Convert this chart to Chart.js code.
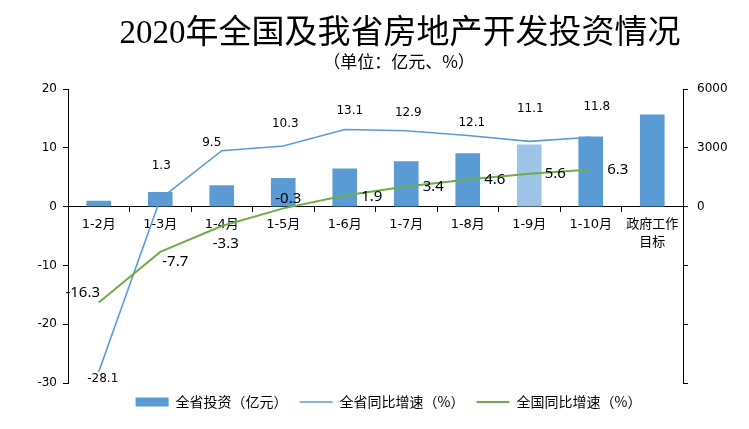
<!DOCTYPE html>
<html>
<head>
<meta charset="utf-8">
<script src="https://cdn.jsdelivr.net/npm/chart.js@4.4.1/dist/chart.umd.min.js"></script>
<style>
  html, body { margin: 0; padding: 0; background: #fff; }
  #wrap { width: 749px; height: 429px; }
</style>
</head>
<body>
<div id="wrap"><canvas id="c"></canvas></div>
<script>
// 2020年全国及我省房地产开发投资情况
const months = ["1-2月", "1-3月", "1-4月", "1-5月", "1-6月", "1-7月", "1-8月", "1-9月", "1-10月", ["政府工作", "目标"]];
const provInvest = [280, 730, 1070, 1440, 1930, 2300, 2700, 3150, 3560, 4680];   // 亿元
const provGrowth = [-28.1, 1.3, 9.5, 10.3, 13.1, 12.9, 12.1, 11.1, 11.8, null];   // %
const natGrowth = [-16.3, -7.7, -3.3, -0.3, 1.9, 3.4, 4.6, 5.6, 6.3, null];       // %
const leftTicks = [-30, -20, -10, 0, 10, 20];
const rightTicks = [-9000, -6000, -3000, 0, 3000, 6000];
const titleText = "2020年全国及我省房地产开发投资情况";
const subtitleText = "（单位：亿元、%）";

const CJK = '"DejaVu Sans", "Noto Sans CJK SC", sans-serif';
const BLUE = "#5b9bd5", LIGHT = "#9dc3e6", GREEN = "#70ad47";

// 数据标签的摆放（像素偏移，和 Excel 里手动拖过的位置对应）
const labelPlace = {
  1: { dx: [4, 1, -10, 2, 5, 2, 4, 1, 6], dy: [7, -33, -8, -22, -19, -18, -13, -32, -30],
       font: '12px "DejaVu Sans", sans-serif' },
  2: { dx: [-16, 15, 4, 5, 27, 27, 27, 26, 27], dy: [-10, 10, 18, -10, 1, 0, 0, 0, 0],
       font: '15px "Noto Sans", sans-serif' },
};

const pointLabels = {
  id: "pointLabels",
  afterDatasetsDraw(chart) {
    const ctx = chart.ctx;
    ctx.save();
    ctx.fillStyle = "#000";
    ctx.textAlign = "center";
    ctx.textBaseline = "middle";
    for (const k of Object.keys(labelPlace)) {
      const ds = chart.data.datasets[k], p = labelPlace[k];
      const meta = chart.getDatasetMeta(+k);
      ctx.font = p.font;
      ds.data.forEach((v, i) => {
        if (v == null) return;
        const pt = meta.data[i];
        ctx.fillText(v.toFixed(1), pt.x + p.dx[i], pt.y + p.dy[i]);
      });
    }
    ctx.restore();
  },
};

// 标题偏右，跟原图一样居中在绘图区上方
const titles = {
  id: "titles",
  afterDraw(chart) {
    const ctx = chart.ctx;
    ctx.save();
    ctx.fillStyle = "#000";
    ctx.textAlign = "center";
    ctx.textBaseline = "middle";
    ctx.font = '33px "Liberation Serif", "Noto Sans CJK SC", serif';
    ctx.fillText(titleText, 400, 34);
    ctx.font = '17px "Noto Sans CJK SC", sans-serif';
    ctx.fillText(subtitleText, 399, 62);
    ctx.restore();
  },
};

new Chart(document.getElementById("c"), {
  type: "bar",
  data: {
    labels: months,
    datasets: [
      { label: "全省投资（亿元）", data: provInvest, yAxisID: "y1", order: 2,
        backgroundColor: provInvest.map((_, i) => (i === 7 ? LIGHT : BLUE)),
        barThickness: 24, pointStyle: "rect" },
      { type: "line", label: "全省同比增速（%）", data: provGrowth, yAxisID: "y", order: 1,
        borderColor: BLUE, backgroundColor: BLUE, borderWidth: 1.6, pointRadius: 0, tension: 0,
        pointStyle: "line" },
      { type: "line", label: "全国同比增速（%）", data: natGrowth, yAxisID: "y", order: 0,
        borderColor: GREEN, backgroundColor: GREEN, borderWidth: 2, pointRadius: 0, tension: 0,
        pointStyle: "line" },
    ],
  },
  options: {
    responsive: true, maintainAspectRatio: false, animation: false,
    layout: { padding: { left: 28, right: 0, top: 89, bottom: 10 } },
    plugins: {
      title: { display: false },
      legend: { position: "bottom",
        labels: { color: "#000", font: { family: '"Noto Sans CJK SC", sans-serif', size: 14 },
          usePointStyle: true, pointStyleWidth: 33, boxHeight: 9, padding: 12,
          sort: (a, b) => a.datasetIndex - b.datasetIndex } },
      tooltip: { enabled: false },
    },
    scales: {
      x: { position: { y: 0 }, offset: true,
        grid: { drawOnChartArea: false, drawTicks: true, tickLength: 5, color: "#000", offset: true },
        border: { display: true, color: "#000" },
        ticks: { color: "#000", padding: 4, maxRotation: 0, autoSkip: false,
          font: { family: CJK, size: 13, lineHeight: 1.38 } } },
      y: { position: "left", min: -30, max: 20,
        afterBuildTicks: (s) => { s.ticks = leftTicks.map((v) => ({ value: v })); },
        afterFit: (s) => { s.width = 40; },
        grid: { drawOnChartArea: false, tickLength: 5, color: "#000" },
        border: { display: true, color: "#000" },
        ticks: { color: "#000", padding: 6, font: { family: CJK, size: 12 } } },
      y1: { position: "right", min: -9000, max: 6000,
        afterBuildTicks: (s) => { s.ticks = rightTicks.map((v) => ({ value: v })); },
        afterFit: (s) => { s.width = 66; },
        grid: { drawOnChartArea: false, tickLength: 5, color: "#000" },
        border: { display: true, color: "#000" },
        ticks: { color: "#000", padding: 9, font: { family: CJK, size: 12 },
          callback: (v) => (v < 0 ? "" : v) } },
    },
  },
  plugins: [pointLabels, titles],
});
</script>
</body>
</html>
